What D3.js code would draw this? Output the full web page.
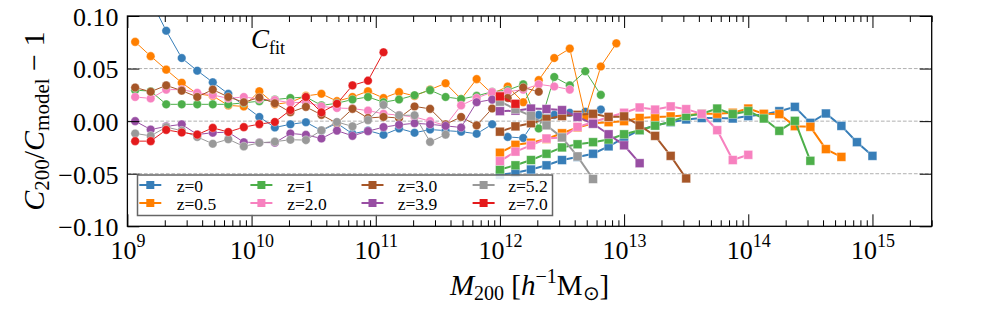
<!DOCTYPE html>
<html>
<head>
<meta charset="utf-8">
<script src="https://cdn.jsdelivr.net/npm/d3@7"></script>
<style>
  body { margin: 0; background: #fff; }
  svg { display: block; font-family: "Liberation Serif", "Times New Roman", serif; }
</style>
</head>
<body>
<script>

// log10(M200) of the bins, low-mass set (circles) and high-mass set (squares)
var circleLogM = [9.0625, 9.1875, 9.3125, 9.4375, 9.5625, 9.6875, 9.8125, 9.9375,
    10.0625, 10.1875, 10.3125, 10.4375, 10.5625, 10.6875, 10.8125, 10.9375,
    11.0625, 11.1875, 11.3125, 11.4375, 11.5625, 11.6875, 11.8125, 11.9375,
    12.0625, 12.1875, 12.3125, 12.4375, 12.5625, 12.6875, 12.8125, 12.9375];
var squareLogM = [12.0, 12.125, 12.25, 12.375, 12.5, 12.625, 12.75, 12.875,
    13.0, 13.125, 13.25, 13.375, 13.5, 13.625, 13.75, 13.875,
    14.0, 14.125, 14.25, 14.375, 14.5, 14.625, 14.75, 14.875, 15.0];

var redshifts = ["0", "0.5", "1", "2.0", "3.0", "3.9", "5.2", "7.0"];
var colors = ["#377eb8", "#ff7f00", "#4daf4a", "#f781bf", "#a65628", "#984ea3", "#999999", "#e41a1c"];

// C200/Cmodel - 1, circles
var circ_z0 = [0.145, 0.115, 0.086, 0.060, 0.048, 0.037, 0.026, 0.015, 0.004, -0.006, -0.003, -0.001,
    -0.009, -0.002, -0.012, -0.009, -0.013, -0.007, -0.011, -0.008, -0.009, -0.010, -0.012, -0.003,
    -0.015, -0.016, 0.006, 0.006, 0.008, 0.009, 0.011];
var circ_z05 = [0.0754, 0.0618, 0.049, 0.0365, 0.026, 0.024, 0.015, 0.014, 0.0285, 0.016, 0.018, 0.024,
    0.026, 0.019, 0.023, 0.0285, 0.022, 0.0276, 0.024, 0.030, 0.036, 0.021, 0.040, 0.026,
    0.033, 0.018, 0.039, 0.060, 0.069, 0.004, 0.052, 0.074];
var circ_z1 = [0.0295, 0.0285, 0.016, 0.016, 0.016, 0.016, 0.016, 0.0174, 0.019, 0.0206, 0.022, 0.023,
    0.015, 0.017, 0.0206, 0.023, 0.018, 0.0206, 0.0247, 0.0295, 0.023, 0.021, 0.024, 0.028,
    0.0295, 0.035, -0.007, 0.042, 0.034, 0.0475, 0.025];
var circ_z2 = [0.023, 0.0216, 0.030, 0.030, 0.027, 0.025, 0.0216, 0.023, 0.021, 0.020, 0.0175, 0.018,
    0.014, 0.0125, 0.012, 0.010, 0.007, 0.0057, 0.004, 0.000, -0.004, 0.015, 0.022, 0.0276,
    0.028, 0.030, 0.035, 0.033, 0.030];
var circ_z3 = [0.032, 0.028, 0.034, 0.029, 0.023, 0.030, 0.023, 0.018, 0.0225, 0.017, 0.0085, 0.0136,
    0.006, -0.002, 0.0117, 0.003, 0.004, 0.003, 0.014, 0.0117, -0.003, 0.004, -0.004, 0.012,
    0.022, 0.032, 0.028];
var circ_z39 = [0.000, -0.008, -0.005, -0.003, -0.0127, -0.011, -0.0105, -0.020, -0.0203, -0.0205, -0.0117, -0.013,
    -0.0165, -0.009, -0.014, -0.0095, -0.0057, -0.0035, -0.002, -0.003, -0.0045, -0.006, 0.018, 0.0205];
var circ_z52 = [-0.0117, -0.014, -0.0057, -0.009, -0.015, -0.0215, -0.0172, -0.024, -0.0206, -0.0195, -0.0177, -0.018,
    -0.0088, -0.0008, -0.005, 0.001, 0.0155, 0.0056, 0.0056, -0.0197, -0.0128];
var circ_z7 = [-0.019, -0.019, -0.0083, -0.0108, -0.0128, -0.0064, -0.0103, -0.0057, -0.0028, -0.0008, 0.0105, 0.023,
    0.0083, 0.0165, 0.034, 0.0385, 0.0655];

// squares
var sq_z0 = [-0.051, -0.049, -0.046, -0.042, -0.037, -0.034, -0.031, -0.024, -0.016, -0.0086, -0.004, -0.001,
    0.0016, 0.003, 0.003, 0.0025, 0.0048, 0.0064, 0.0095, 0.0136, -0.0016, 0.0073, -0.0045, -0.020, -0.033];
var sq_z05 = [-0.030, -0.0225, -0.0205, -0.017, -0.0115, -0.006, -0.002, -0.001, 0.000, 0.003, 0.004, 0.0045,
    0.0057, 0.007, 0.007, 0.008, 0.012, 0.007, 0.0067, -0.0048, -0.0054, -0.0266, -0.034];
var sq_z1 = [-0.046, -0.042, -0.037, -0.031, -0.025, -0.022, -0.020, -0.0175, -0.0125, -0.0086, -0.0043, -0.0005,
    0.0048, 0.007, 0.012, 0.0067, 0.0095, 0.0025, -0.0092, 0.0003, -0.0377];
var sq_z2 = [-0.038, -0.029, -0.023, -0.0165, -0.0155, -0.0054, -0.001, 0.004, 0.008, 0.013, 0.011, 0.014,
    0.0114, 0.007, -0.0086, -0.037, -0.032];
var sq_z3 = [-0.010, -0.005, -0.002, 0.002, 0.0048, 0.006, 0.007, 0.004, 0.0045, -0.004, -0.014, -0.033, -0.0545];
var sq_z39 = [0.0095, 0.010, 0.012, 0.0115, 0.0105, 0.004, -0.0025, -0.0125, -0.023, -0.040];
var sq_z52 = [0.0185, 0.0115, 0.005, -0.004, -0.0155, -0.0335, -0.055];
var sq_z7 = [0.0235, 0.0165];

var circSets = [circ_z0, circ_z05, circ_z1, circ_z2, circ_z3, circ_z39, circ_z52, circ_z7];
var sqSets = [sq_z0, sq_z05, sq_z1, sq_z2, sq_z3, sq_z39, sq_z52, sq_z7];

var xMajor = [1e9, 1e10, 1e11, 1e12, 1e13, 1e14, 1e15];
var yTicks = [-0.10, -0.05, 0.00, 0.05, 0.10];
var gridVals = [-0.05, 0.00, 0.05];

const w = 981;
const h = 324;
const pL = 127.4, pR = 931.7, pT = 16, pB = 226.3;

const xScale = d3.scaleLog().domain([1e9, 3e15]).range([pL, pR]);
const yScale = d3.scaleLinear().domain([-0.1, 0.1]).range([pB, pT]);

// minor ticks 2..9 x 10^k
var xMinor = [];
for (var k = 9; k <= 15; k++) {
    for (var m = 2; m <= 9; m++) {
        if (m * Math.pow(10, k) <= 3e15) xMinor.push(m * Math.pow(10, k));
    }
}

const svg = d3.select("body")
    .append("svg")
    .attr("width", w)
    .attr("height", h);

svg.append("defs").append("clipPath")
    .attr("id", "plotclip")
    .append("rect")
    .attr("x", pL).attr("y", pT)
    .attr("width", pR - pL).attr("height", pB - pT);

// dashed reference lines
svg.selectAll("line.grid")
    .data(gridVals)
    .enter()
    .append("line")
    .attr("class", "grid")
    .attr("x1", pL).attr("x2", pR)
    .attr("y1", d => yScale(d)).attr("y2", d => yScale(d))
    .attr("stroke", "#b0b0b0")
    .attr("stroke-width", 1)
    .attr("stroke-dasharray", "3.7,1.8");

const plot = svg.append("g").attr("clip-path", "url(#plotclip)");

const line = d3.line()
    .x(d => xScale(Math.pow(10, d[0])))
    .y(d => yScale(d[1]));

redshifts.forEach(function (z, i) {
    var cPts = circSets[i].map((v, j) => [circleLogM[j], v]);
    var sPts = sqSets[i].map((v, j) => [squareLogM[j], v]);

    plot.append("path")
        .datum(cPts)
        .attr("d", line)
        .attr("fill", "none")
        .attr("stroke", colors[i])
        .attr("stroke-width", 1);
    plot.selectAll(null)
        .data(cPts)
        .enter()
        .append("circle")
        .attr("cx", d => xScale(Math.pow(10, d[0])))
        .attr("cy", d => yScale(d[1]))
        .attr("r", 4.3)
        .attr("fill", colors[i])
        .attr("stroke", "#fff")
        .attr("stroke-opacity", 0.45)
        .attr("stroke-width", 0.8);

    plot.append("path")
        .datum(sPts)
        .attr("d", line)
        .attr("fill", "none")
        .attr("stroke", colors[i])
        .attr("stroke-width", 2);
    plot.selectAll(null)
        .data(sPts)
        .enter()
        .append("rect")
        .attr("x", d => xScale(Math.pow(10, d[0])) - 4.4)
        .attr("y", d => yScale(d[1]) - 4.4)
        .attr("width", 8.8)
        .attr("height", 8.8)
        .attr("fill", colors[i])
        .attr("stroke", "#fff")
        .attr("stroke-opacity", 0.45)
        .attr("stroke-width", 0.8);
});

// axes, ticks pointing inward on all four sides
const xAxis = d3.axisBottom(xScale).tickValues(xMajor).tickSize(-12).tickSizeOuter(0).tickPadding(0);
const gx = svg.append("g")
    .attr("transform", "translate(0," + pB + ")")
    .call(xAxis);
gx.selectAll(".tick text").each(function (d) {
    var t = d3.select(this);
    t.text(null).attr("y", 33).attr("dy", null)
        .attr("font-size", 26).attr("font-family", "Liberation Serif");
    t.append("tspan").text("10");
    t.append("tspan").attr("dy", -12).attr("font-size", 18).text(Math.round(Math.log10(d)));
});

svg.append("g")
    .attr("transform", "translate(0," + pB + ")")
    .call(d3.axisBottom(xScale).tickValues(xMinor).tickSize(-6).tickSizeOuter(0).tickFormat(""));
svg.append("g")
    .attr("transform", "translate(0," + pT + ")")
    .call(d3.axisTop(xScale).tickValues(xMajor).tickSize(-12).tickSizeOuter(0).tickFormat(""));
svg.append("g")
    .attr("transform", "translate(0," + pT + ")")
    .call(d3.axisTop(xScale).tickValues(xMinor).tickSize(-6).tickSizeOuter(0).tickFormat(""));

const gy = svg.append("g")
    .attr("transform", "translate(" + pL + ",0)")
    .call(d3.axisLeft(yScale).tickValues(yTicks).tickSize(-12).tickSizeOuter(0)
        .tickPadding(9).tickFormat(d3.format(".2f")));
gy.selectAll(".tick text")
    .attr("font-size", 26)
    .attr("font-family", "Liberation Serif")
    .attr("dy", "0.36em");
svg.append("g")
    .attr("transform", "translate(" + pR + ",0)")
    .call(d3.axisRight(yScale).tickValues(yTicks).tickSize(-12).tickSizeOuter(0).tickFormat(""));

svg.selectAll(".domain").remove();
svg.selectAll(".tick line").attr("stroke", "#000").attr("stroke-width", 1);
svg.selectAll(".tick text").attr("fill", "#000");

// frame
svg.append("rect")
    .attr("x", pL).attr("y", pT)
    .attr("width", pR - pL).attr("height", pB - pT)
    .attr("fill", "none")
    .attr("stroke", "#000")
    .attr("stroke-width", 1.3);

// title inside the panel
const title = svg.append("text")
    .attr("x", 251).attr("y", 48)
    .attr("font-size", 27);
title.append("tspan").attr("font-style", "italic").text("C");
title.append("tspan").attr("font-size", 18).attr("dy", 6).text("fit");

// legend
const legend = svg.append("g");
legend.append("rect")
    .attr("x", 137.5).attr("y", 175)
    .attr("width", 415).attr("height", 40.5)
    .attr("fill", "#fff")
    .attr("fill-opacity", 0.85)
    .attr("stroke", "#666")
    .attr("stroke-width", 1.5);

redshifts.forEach(function (z, i) {
    var col = Math.floor(i / 2), row = i % 2;
    var mx = 150.3 + col * 111.1;
    var ty = 185 + row * 18;
    legend.append("line")
        .attr("x1", mx - 11).attr("x2", mx + 11)
        .attr("y1", ty).attr("y2", ty)
        .attr("stroke", colors[i]).attr("stroke-width", 2);
    legend.append("rect")
        .attr("x", mx - 4).attr("y", ty - 4)
        .attr("width", 8).attr("height", 8)
        .attr("fill", colors[i]);
    legend.append("text")
        .attr("x", 176.7 + col * 110.5)
        .attr("y", ty + 7.2)
        .attr("font-size", 17.5)
        .attr("font-family", "Liberation Serif")
        .text("z=" + z);
});

// axis labels
const xl = svg.append("text")
    .attr("x", (pL + pR) / 2)
    .attr("y", 295)
    .attr("text-anchor", "middle")
    .attr("font-size", 29);
xl.append("tspan").attr("font-style", "italic").text("M");
xl.append("tspan").attr("font-size", 20).attr("dy", 5).text("200");
xl.append("tspan").attr("dy", -5).text(" [");
xl.append("tspan").attr("font-style", "italic").text("h");
xl.append("tspan").attr("font-size", 20).attr("dy", -12).text("\u22121");
xl.append("tspan").attr("dy", 12).text("M");
xl.append("tspan").attr("font-size", 20).attr("dy", 5).text("\u2299");
xl.append("tspan").attr("dy", -5).text("]");

const yl = svg.append("text")
    .attr("transform", "translate(44," + yScale(0) + ") rotate(-90)")
    .attr("text-anchor", "middle")
    .attr("font-size", 30);
yl.append("tspan").attr("font-style", "italic").text("C");
yl.append("tspan").attr("font-size", 21).attr("dy", 5).text("200");
yl.append("tspan").attr("dy", -5).text("/");
yl.append("tspan").attr("font-style", "italic").text("C");
yl.append("tspan").attr("font-size", 21).attr("dy", 5).text("model");
yl.append("tspan").attr("dy", -5).text(" \u2212 1");

</script>
</body>
</html>
